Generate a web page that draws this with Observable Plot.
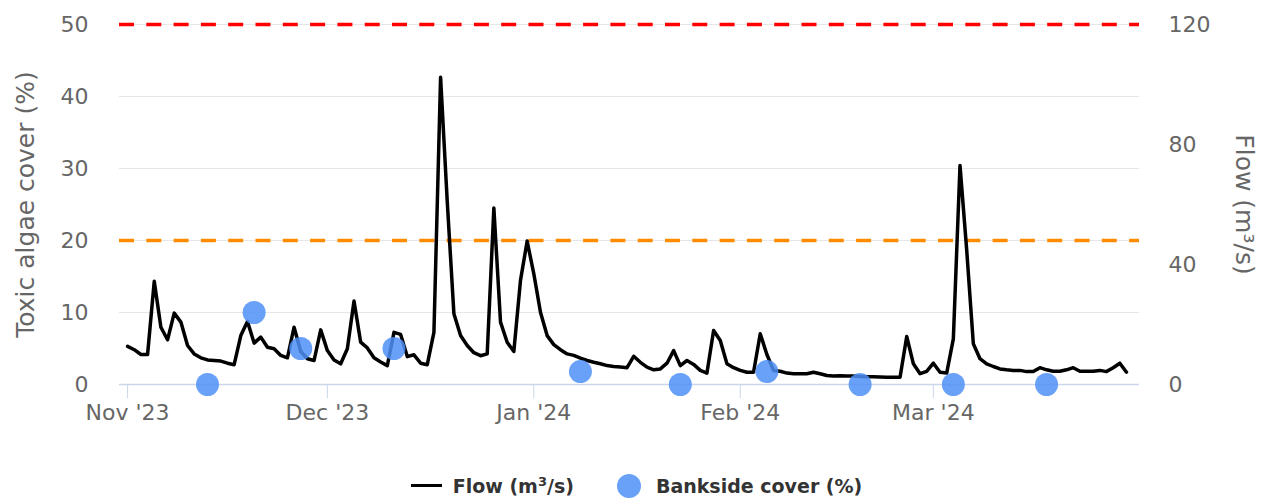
<!DOCTYPE html>
<html>
<head>
<meta charset="utf-8">
<script src="https://cdn.jsdelivr.net/npm/d3@7"></script>
<script src="https://cdn.jsdelivr.net/npm/@observablehq/plot@0.6"></script>
<style>
  html, body { margin: 0; padding: 0; background: #fff; }
  #chart svg { display: block; }
  #legend {
    display: flex; justify-content: center; align-items: center;
    height: 36px; font-family: "DejaVu Sans", sans-serif; font-weight: bold;
    font-size: 19px; color: #333;
  }
  .item { display: flex; align-items: center; }
  .swatch-line { width: 31px; height: 3px; background: #000; margin-right: 11px; }
  .swatch-dot { width: 24px; height: 24px; border-radius: 50%; background: #4f8ff7; opacity: 0.85; margin-right: 15px; }
  .gap { width: 43px; }
</style>
</head>
<body>
<div id="chart"></div>
<div id="legend">
  <div class="item"><div class="swatch-line"></div><span>Flow (m<sup style="font-size:13px">3</sup>/s)</span></div>
  <div class="gap"></div>
  <div class="item"><div class="swatch-dot"></div><span>Bankside cover (%)</span></div>
</div>
<script>
// ---- data ----
const flowStart = "2023-11-01";
const flowValues = [
  12.7, 11.6, 10.0, 10.0, 34.4, 19.1, 14.9, 23.8, 20.8, 13.0,
  10.2, 8.9, 8.2, 8.0, 7.8, 7.1, 6.6, 16.3, 21.0, 13.8,
  15.8, 12.4, 11.9, 9.7, 8.9, 19.1, 11.0, 8.6, 8.0, 18.2,
  11.3, 8.2, 6.9, 11.9, 27.8, 14.1, 12.2, 8.9, 7.5, 6.3,
  17.4, 16.7, 9.3, 9.9, 7.1, 6.6, 17.4, 102.4, 61.0, 23.6,
  16.3, 13.0, 10.6, 9.6, 10.2, 58.8, 20.8, 14.1, 11.0, 34.7,
  47.8, 36.9, 24.1, 16.3, 13.3, 11.6, 10.2, 9.7, 8.8, 8.0,
  7.4, 6.9, 6.3, 6.0, 5.8, 5.6, 9.4, 7.4, 5.8, 4.9,
  5.2, 7.1, 11.3, 6.3, 8.0, 6.7, 4.7, 3.8, 18.0, 14.7,
  6.9, 5.6, 4.7, 4.1, 4.1, 16.9, 10.0, 4.7, 4.4, 3.8,
  3.6, 3.6, 3.6, 4.1, 3.6, 3.0, 2.8, 2.9, 2.8, 2.8,
  2.7, 2.6, 2.6, 2.5, 2.4, 2.4, 2.4, 16.0, 6.9, 3.6,
  4.4, 7.1, 4.1, 3.8, 15.2, 73.0, 45.0, 13.6, 8.6, 6.9,
  6.0, 5.2, 4.9, 4.7, 4.7, 4.3, 4.3, 5.6, 4.9, 4.4,
  4.4, 4.9, 5.6, 4.4, 4.4, 4.4, 4.7, 4.3, 5.6, 7.1,
  4.1
];
const coverDates = ["2023-11-13", "2023-11-20", "2023-11-27", "2023-12-11", "2024-01-08",
                    "2024-01-23", "2024-02-05", "2024-02-19", "2024-03-04", "2024-03-18"];
const coverValues = [0, 10, 5, 5, 1.8, 0, 1.8, 0, 0, 0];
const leftTicks = [0, 10, 20, 30, 40, 50];
const rightTicks = [0, 40, 80, 120];
const monthTicks = ["2023-11-01", "2023-12-01", "2024-01-01", "2024-02-01", "2024-03-01"];
const xDomain = ["2023-11-01", "2024-04-01"];
const leftMax = 50;
const rightMax = 120;
const redThreshold = [50];
const orangeThreshold = [20];
const leftTitle = "Toxic algae cover (%)";
const rightTitle = "Flow (m³/s)";

// ---- build ----
const parse = d3.utcParse("%Y-%m-%d");
const k = leftMax / rightMax;
const flowData = flowValues.map((v, i) => ({date: d3.utcDay.offset(parse(flowStart), i), flow: v}));
const coverData = coverDates.map((d, i) => ({date: parse(d), cover: coverValues[i]}));

const W = 1273, H = 468;
const chart = Plot.plot({
  width: W, height: H,
  marginLeft: 119, marginRight: 134, marginTop: 24, marginBottom: H - 384,
  style: {fontFamily: '"DejaVu Sans", sans-serif', fontSize: "22px", background: "white", overflow: "visible"},
  x: {type: "utc", domain: xDomain.map(parse), range: [127.1, 1139.3]},
  y: {domain: [0, leftMax]},
  marks: [
    Plot.gridY(leftTicks, {stroke: "#e6e6e6", strokeOpacity: 1, strokeWidth: 1}),
    Plot.ruleY([0], {stroke: "#ccd6eb", strokeWidth: 1.5}),
    Plot.axisX({ticks: monthTicks.map(parse), tickFormat: d3.utcFormat("%b '%y"), tickSize: 14, tickPadding: 6,
                stroke: "#ccd6eb", strokeOpacity: 1, fill: "#666", label: null}),
    Plot.axisY({ticks: leftTicks, anchor: "left", tickSize: 0, tickPadding: 31, fill: "#666", label: null}),
    Plot.axisY({ticks: rightTicks.map(v => v * k), anchor: "right", tickFormat: v => String(Math.round(v / k)),
                tickSize: 0, tickPadding: 29, fill: "#666", label: null}),
    Plot.ruleY(redThreshold, {stroke: "#ff0000", strokeWidth: 3.5, strokeDasharray: "15,12.3"}),
    Plot.ruleY(orangeThreshold, {stroke: "#ff8c00", strokeWidth: 3.5, strokeDasharray: "15,12.3"}),
    Plot.line(flowData, {x: "date", y: d => d.flow * k, stroke: "#000", strokeWidth: 3.5, strokeLinejoin: "round"}),
    Plot.dot(coverData, {x: "date", y: "cover", r: 11.5, fill: "#4f8ff7", fillOpacity: 0.85, stroke: "none"}),
    Plot.text([leftTitle], {text: d => d, frameAnchor: "left", textAnchor: "middle", lineAnchor: "middle",
                            dx: -94, rotate: -90, fontSize: 25, fill: "#666"}),
    Plot.text([rightTitle], {text: d => d, frameAnchor: "right", textAnchor: "middle", lineAnchor: "middle",
                             dx: 104, rotate: 90, fontSize: 25, fill: "#666"})
  ]
});
document.getElementById("chart").appendChild(chart);
</script>
</body>
</html>
